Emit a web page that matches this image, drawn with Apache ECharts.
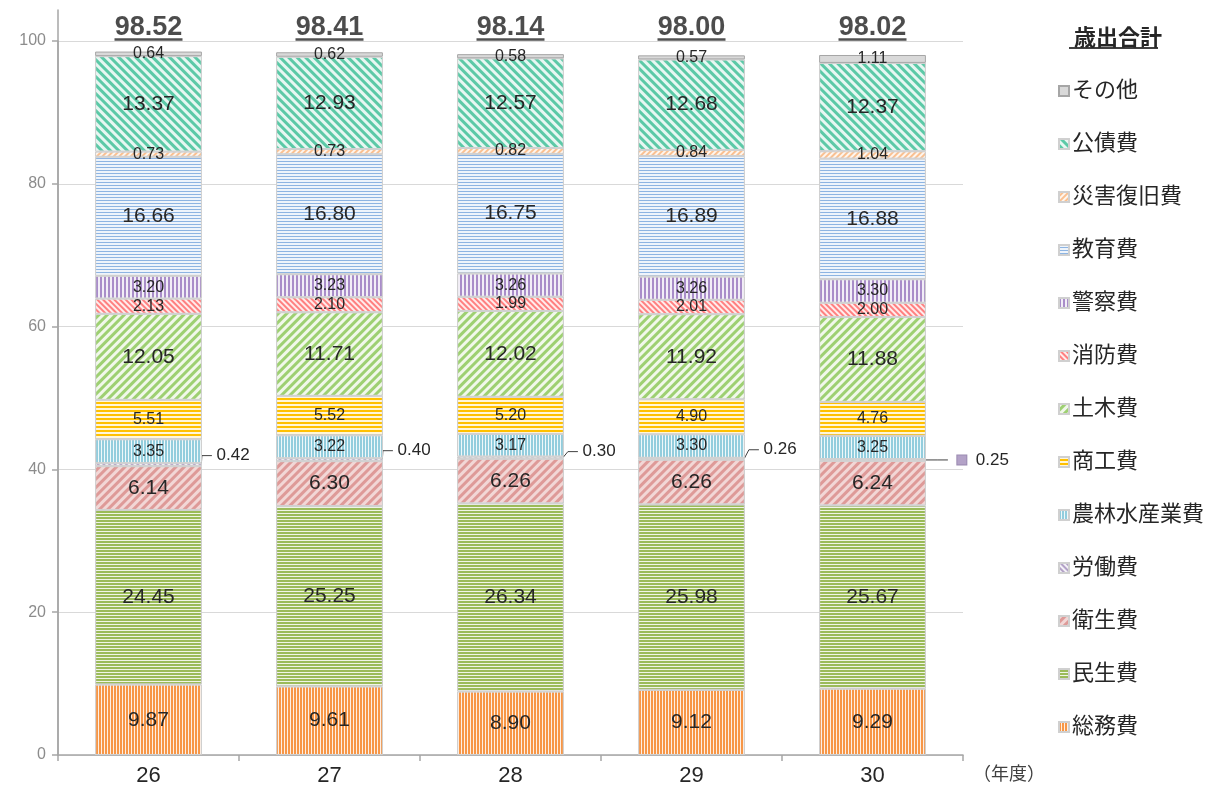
<!DOCTYPE html>
<html>
<head>
<meta charset="utf-8">
<script src="https://cdn.jsdelivr.net/npm/echarts@6/dist/echarts.min.js"></script>
<style>
html,body{margin:0;padding:0;background:#fff;}
#chart{width:1207px;height:787px;}
</style>
</head>
<body>
<div id="chart"></div>
<script>
// ---- data ----
const years = ['26', '27', '28', '29', '30'];
const somu      = [9.87, 9.61, 8.90, 9.12, 9.29];     // 総務費
const minsei    = [24.45, 25.25, 26.34, 25.98, 25.67];// 民生費
const eisei     = [6.14, 6.30, 6.26, 6.26, 6.24];     // 衛生費
const rodo      = [0.42, 0.40, 0.30, 0.26, 0.25];     // 労働費
const norin     = [3.35, 3.22, 3.17, 3.30, 3.25];     // 農林水産業費
const shoko     = [5.51, 5.52, 5.20, 4.90, 4.76];     // 商工費
const doboku    = [12.05, 11.71, 12.02, 11.92, 11.88];// 土木費
const shobo     = [2.13, 2.10, 1.99, 2.01, 2.00];     // 消防費
const keisatsu  = [3.20, 3.23, 3.26, 3.26, 3.30];     // 警察費
const kyoiku    = [16.66, 16.80, 16.75, 16.89, 16.88];// 教育費
const saigai    = [0.73, 0.73, 0.82, 0.84, 1.04];     // 災害復旧費
const kosai     = [13.37, 12.93, 12.57, 12.68, 12.37];// 公債費
const sonota    = [0.64, 0.62, 0.58, 0.57, 1.11];     // その他
const totals    = [98.52, 98.41, 98.14, 98.00, 98.02];// 歳出合計
const yTicks    = [0, 20, 40, 60, 80, 100];

const FONT = '"Liberation Sans", Arial, "Noto Sans CJK JP", sans-serif';
const W = 'rgba(255,255,255,0.85)';
const Q = Math.PI / 4;

function dec(dash, gap, rot, color) {
  return { symbol: 'rect', symbolSize: 1, color: color || W, dashArrayX: [1, 0], dashArrayY: [dash, gap], rotation: rot };
}

const seriesDefs = [
  { name: '総務費', data: somu, color: '#F79646', decal: dec(1, 2, Math.PI / 2), big: true },
  { name: '民生費', data: minsei, color: '#9BBB59', decal: dec(1, 2, 0), big: true },
  { name: '衛生費', data: eisei, color: '#DE9A98', decal: dec(3, 3, -Q, 'rgba(255,255,255,0.6)'), big: true },
  { name: '労働費', data: rodo, color: '#B3A2C7', decal: dec(2, 2, Q), rodo: true },
  { name: '農林水産業費', data: norin, color: '#93CDDD', decal: dec(1, 2, Math.PI / 2) },
  { name: '商工費', data: shoko, color: '#FFC000', decal: dec(2, 2, 0) },
  { name: '土木費', data: doboku, color: '#9ED072', decal: dec(3, 3, -Q), big: true },
  { name: '消防費', data: shobo, color: '#FF8080', decal: dec(2, 2, Q) },
  { name: '警察費', data: keisatsu, color: '#A98DC9', decal: dec(2, 2, Math.PI / 2) },
  { name: '教育費', data: kyoiku, color: '#8DB4E2', decal: dec(2, 1, 0), big: true },
  { name: '災害復旧費', data: saigai, color: '#FAC090', decal: dec(2, 2, -Q) },
  { name: '公債費', data: kosai, color: '#5CC9A7', decal: dec(3, 3, Q), big: true },
  { name: 'その他', data: sonota, color: '#D9D9D9', decal: null }
];

// label offsets for the thin 労働費 segment (layout only)
const rodoDy = [-9, -9, -6, -9, 0];
const rodoDx = [0, 0, 4, 4, 12];

const barSeries = seriesDefs.map(function (d) {
  const s = {
    name: d.name,
    type: 'bar',
    stack: 'total',
    xAxisIndex: 1, yAxisIndex: 1,
    barWidth: '59%',
    data: d.data,
    itemStyle: {
      color: d.color,
      borderColor: d.name === 'その他' ? '#A6A6A6' : '#D0D0D0',
      borderWidth: 1
    },
    label: {
      show: true,
      position: 'inside',
      color: '#262626',
      fontFamily: FONT,
      fontSize: d.big ? 21 : 16,
      formatter: function (p) { return p.value.toFixed(2); }
    },
    emphasis: { disabled: true }
  };
  if (d.decal) s.itemStyle.decal = d.decal;
  if (d.rodo) {
    s.label = {
      show: true,
      position: 'right',
      distance: 10,
      color: '#262626',
      fontFamily: FONT,
      fontSize: 17,
      formatter: function (p) {
        return p.dataIndex === d.data.length - 1 ? '  {ic|}  ' + p.value.toFixed(2) : ' ' + p.value.toFixed(2);
      },
      rich: {
        ic: { width: 9, height: 9, backgroundColor: '#B3A2C7', borderColor: '#9a8ab0', borderWidth: 1 }
      }
    };
    s.labelLine = { show: true, length2: 10, minTurnAngle: 60, lineStyle: { color: '#404040', width: 1 } };
    s.labelLayout = function (p) { return { dx: rodoDx[p.dataIndex], dy: rodoDy[p.dataIndex] }; };
  }
  return s;
});

const option = {
  animation: false,
  textStyle: { fontFamily: FONT },
  title: {
    text: '歳出合計',
    left: 1069, top: 23,
    textStyle: { fontSize: 22, fontWeight: 'bold', color: '#262626', fontFamily: FONT }
  },
  graphic: [
    { type: 'rect', left: 1069, top: 47, shape: { width: 89, height: 2 }, style: { fill: '#404040' }, silent: true }
  ],
  legend: {
    orient: 'vertical',
    left: 1053, top: 75,
    itemWidth: 10, itemHeight: 10,
    itemGap: 31,
    selectedMode: false,
    icon: 'rect',
    data: seriesDefs.map(function (d) { return d.name; }).reverse(),
    textStyle: { fontSize: 22, lineHeight: 22, color: '#262626', fontFamily: FONT, padding: [0, 0, 0, -2] }
  },
  grid: [
    { left: 58, right: 244, top: 10, bottom: 32 },
    { left: 58, right: 244, top: 41, bottom: 32 }
  ],
  xAxis: [
    { type: 'category', gridIndex: 0, data: years, show: false },
    {
      type: 'category', gridIndex: 1, data: years,
      name: '（年度）', nameLocation: 'end', nameGap: 10,
      nameTextStyle: { fontSize: 18, color: '#404040', verticalAlign: 'top', padding: [11, 0, 0, 0] },
      axisLine: { lineStyle: { color: '#A6A6A6', width: 1.5 } },
      axisTick: { show: true, length: 6, lineStyle: { color: '#A6A6A6', width: 1.5 } },
      axisLabel: { fontSize: 22, color: '#262626', margin: 10 }
    }
  ],
  yAxis: [
    {
      type: 'value', gridIndex: 0, min: 0, max: 1,
      axisLine: { show: true, lineStyle: { color: '#A6A6A6', width: 1.5 } },
      axisTick: { show: false }, axisLabel: { show: false }, splitLine: { show: false }
    },
    {
      type: 'value', gridIndex: 1,
      min: yTicks[0], max: yTicks[yTicks.length - 1], interval: yTicks[1] - yTicks[0],
      axisLine: { show: true, lineStyle: { color: '#A6A6A6', width: 1.5 } },
      axisTick: { show: true, length: 6, lineStyle: { color: '#A6A6A6', width: 1.5 } },
      axisLabel: { fontSize: 16, color: '#8C8C8C', margin: 12 },
      splitLine: { show: true, lineStyle: { color: '#D9D9D9', width: 1 } }
    }
  ],
  series: barSeries.concat([
    {
      name: '歳出合計',
      type: 'scatter',
      xAxisIndex: 1, yAxisIndex: 1,
      clip: false,
      silent: true,
      symbol: 'rect',
      symbolSize: [68, 2.5],
      symbolOffset: [0, -1.5],
      itemStyle: { color: '#262626' },
      data: totals.map(function (t, i) { return [years[i], yTicks[yTicks.length - 1], t]; }),
      label: {
        show: true,
        position: 'top',
        distance: 0,
        offset: [0, 3],
        fontSize: 27,
        fontWeight: 'bold',
        color: '#1f1f1f',
        fontFamily: FONT,
        formatter: function (p) { return p.value[2].toFixed(2); }
      },
      z: 5
    }
  ])
};

const chart = echarts.init(document.getElementById('chart'), null, { renderer: 'canvas' });
chart.setOption(option);
</script>
</body>
</html>
